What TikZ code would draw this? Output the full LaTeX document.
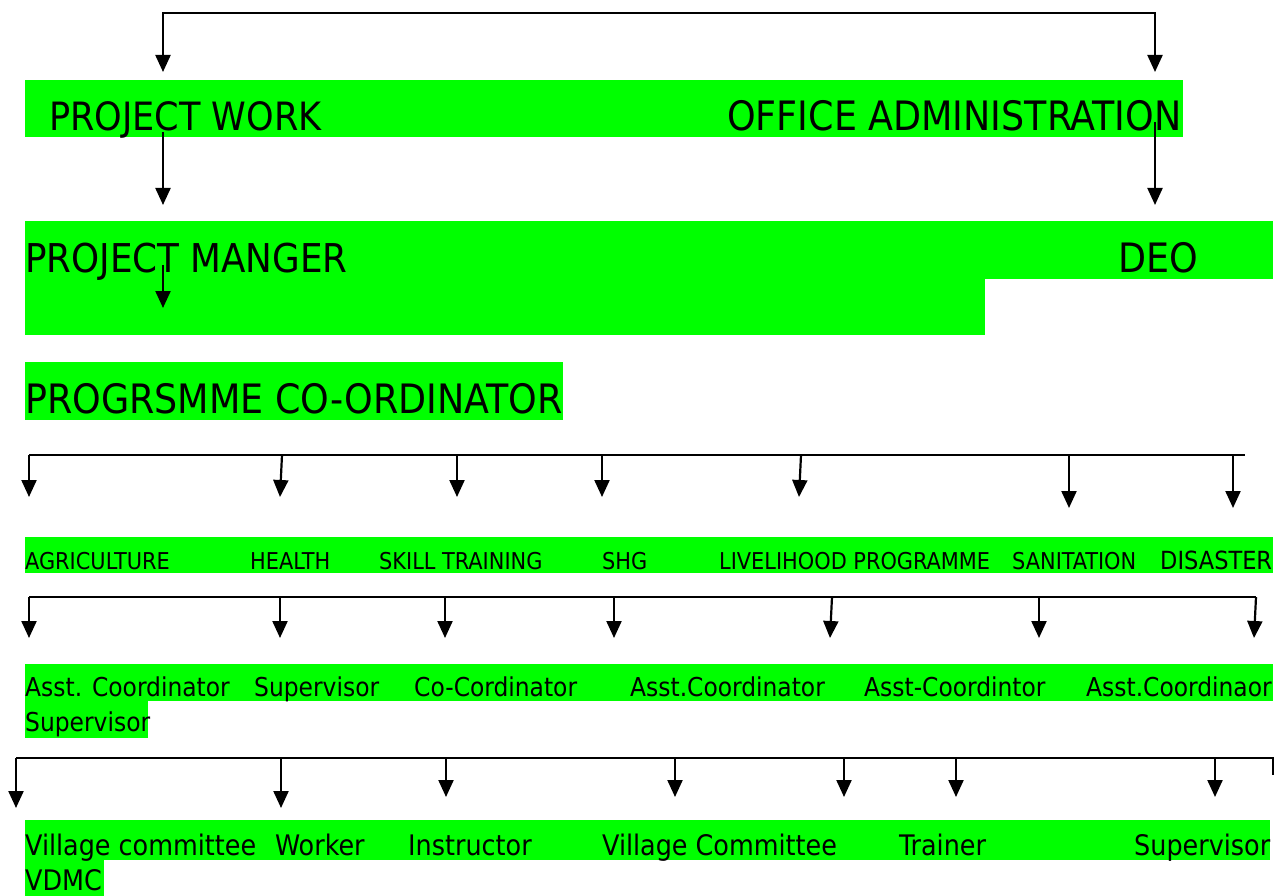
\documentclass[tikz,border=0pt]{standalone}
\usepackage{fontspec}
\setmainfont{DejaVu Sans Condensed}
\usetikzlibrary{arrows.meta}
\definecolor{barGreen}{RGB}{0,255,0}
\tikzset{
  bar/.style={fill=barGreen, draw=none},
  lbl/.style={anchor=base west, inner sep=0pt, text=black},
  big/.style={lbl, font=\fontsize{40.5}{42}\selectfont},
  mid/.style={lbl, font=\fontsize{26}{28}\selectfont},
  low/.style={lbl, font=\fontsize{28.3}{30}\selectfont},
  sml/.style={lbl, font=\fontsize{23.2}{25}\selectfont},
  arr/.style={line width=2.2pt, -{Triangle[length=17pt,width=15pt]}},
  rail/.style={line width=2.2pt}
}
\begin{document}
\begin{tikzpicture}[x=1pt,y=-1pt]
			%%%%% START %%%%%
			\useasboundingbox (0,0) rectangle (1284,896);
			
			% green bars
			\fill[bar] (25,80) rectangle (1183,137);
			\fill[bar] (25,221) rectangle (1273,279);
			\fill[bar] (25,279) rectangle (985,335);
			\fill[bar] (25,362) rectangle (563,420);
			\fill[bar] (25,537) rectangle (1273,573);
			\fill[bar] (25,664) rectangle (1273,701);
			\fill[bar] (25,701) rectangle (148,738);
			\fill[bar] (25,820) rectangle (1270,860);
			\fill[bar] (25,860) rectangle (104,896);
			
			% top levels
			\node[big, font=\fontsize{39}{41}\selectfont] (work) at (49,131) {PROJECT WORK};
			\node[big] (admin) at (727,131) {OFFICE ADMINISTRATION};
			\node[big, font=\fontsize{39.7}{41}\selectfont] (manager) at (25,272) {PROJECT MANGER};
			\node[big] (deo) at (1118,272) {DEO};
			\node[big] (coord) at (25,413) {PROGRSMME CO-ORDINATOR};
			
			\draw[rail, {Triangle[length=17pt,width=15pt]}-{Triangle[length=17pt,width=15pt]}] (163,72) -- (163,13) -- (1155,13) -- (1155,72);
			\draw[arr] (163,132) -- (163,205);
			\draw[arr] (1155,122) -- (1155,205);
			\draw[arr] (163,265) -- (163,308);
			
			% programmes
			\draw[rail] (29,455) -- (1245,455);
			\draw[arr] (29,455) -- (29,497);
			\draw[arr] (282,455) -- (280,497);
			\draw[arr] (457,455) -- (457,497);
			\draw[arr] (602,455) -- (602,497);
			\draw[arr] (801,455) -- (799,497);
			\draw[arr] (1069,455) -- (1069,508);
			\draw[arr] (1233,455) -- (1233,508);
			
			\node[sml] (agri) at (25,569) {AGRICULTURE};
			\node[sml] (health) at (250,569) {HEALTH};
			\node[sml] (skill) at (379,569) {SKILL TRAINING};
			\node[sml] (shg) at (602,569) {SHG};
			\node[sml] (live) at (719,569) {LIVELIHOOD PROGRAMME};
			\node[sml] (sani) at (1012,569) {SANITATION};
			\node[lbl, font=\fontsize{25}{27}\selectfont] (disa) at (1160,569) {DISASTER};
			
			% coordinators
			\draw[rail] (29,597) -- (1256,597);
			\draw[arr] (29,597) -- (29,638);
			\draw[arr] (280,597) -- (280,638);
			\draw[arr] (445,597) -- (445,638);
			\draw[arr] (614,597) -- (614,638);
			\draw[arr] (832,597) -- (830,638);
			\draw[arr] (1039,597) -- (1039,638);
			\draw[arr] (1256,597) -- (1254,638);
			
			\node[mid] (c1) at (25,696) {Asst. Coordinator};
			\node[mid] (c2) at (254,696) {Supervisor};
			\node[mid] (c3) at (414,696) {Co-Cordinator};
			\node[mid] (c4) at (630,696) {Asst.Coordinator};
			\node[mid] (c5) at (864,696) {Asst-Coordintor};
			\node[mid] (c6) at (1086,696) {Asst.Coordinaor};
			\node[mid] (c7) at (25,731) {Supervisor};
			
			% field staff
			\draw[rail] (16,758) -- (1273,758) -- (1273,775);
			\draw[arr] (16,758) -- (16,808);
			\draw[arr] (281,758) -- (281,808);
			\draw[arr] (446,758) -- (446,797);
			\draw[arr] (675,758) -- (675,797);
			\draw[arr] (844,758) -- (844,797);
			\draw[arr] (956,758) -- (956,797);
			\draw[arr] (1215,758) -- (1215,797);
			
			\node[low] (f1) at (25,855) {Village committee};
			\node[low] (f2) at (275,855) {Worker};
			\node[low] (f3) at (408,855) {Instructor};
			\node[low] (f4) at (602,855) {Village Committee};
			\node[low] (f5) at (899,855) {Trainer};
			\node[low] (f6) at (1134,855) {Supervisor};
			\node[low] (f7) at (25,890) {VDMC};
			
			%%%%% END %%%%%
\end{tikzpicture}
\end{document}
